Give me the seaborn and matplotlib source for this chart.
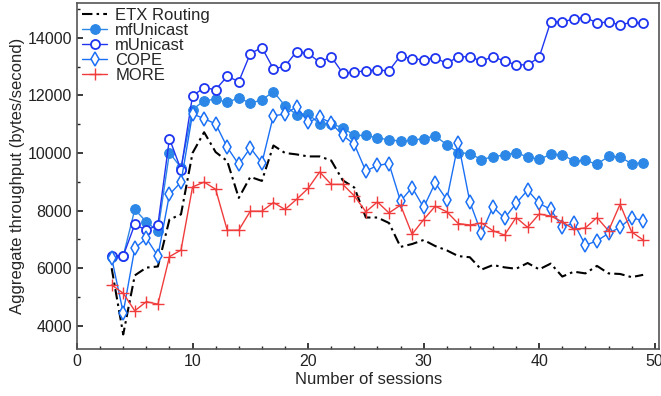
# Aggregate throughput vs number of sessions

import numpy as np
import pandas as pd
import matplotlib
matplotlib.use('Agg')
import matplotlib.pyplot as plt
import seaborn as sns
from matplotlib.ticker import MultipleLocator

############################
# DATA
############################
sessions = list(range(3, 50))

etx = [6000, 3700, 5750, 6020, 6060, 7690, 7870, 10000, 10720, 10030,
       9720, 8440, 9170, 9030, 10260, 10000, 9950, 9880, 9880, 9740,
       9050, 8800, 7760, 7760, 7570, 6740, 6840, 6980, 6770, 6620,
       6420, 6380, 5950, 6110, 6030, 5980, 6180, 5960, 6160, 5710,
       5880, 5820, 6080, 5820, 5800, 5690, 5770]

mf_unicast = [6400, 6420, 8040, 7610, 7290, 10010, 9490, 11500, 11820, 11860,
              11760, 11910, 11730, 11840, 12130, 11640, 11330, 11360, 11010, 11010,
              10880, 10610, 10610, 10520, 10460, 10410, 10440, 10500, 10590, 10290,
              10010, 9980, 9770, 9870, 9930, 10010, 9860, 9780, 9950, 9940,
              9720, 9740, 9610, 9880, 9860, 9630, 9660]

m_unicast = [6430, 6430, 7520, 7320, 7500, 10500, 9420, 11990, 12260, 12200,
             12660, 12480, 13450, 13660, 12920, 13010, 13520, 13460, 13150, 13340,
             12770, 12800, 12860, 12880, 12850, 13380, 13260, 13240, 13300, 13110,
             13340, 13340, 13190, 13340, 13190, 13060, 13060, 13320, 14560, 14540,
             14660, 14700, 14520, 14540, 14450, 14530, 14500]

cope = [6350, 4460, 6690, 7040, 6420, 8560, 8990, 11360, 11190, 11010,
        10200, 9600, 10180, 9650, 11300, 11340, 11610, 11070, 11240, 11040,
        10610, 10300, 9370, 9570, 9630, 8330, 8800, 8110, 8960, 8380,
        10340, 8300, 7210, 8130, 7730, 8250, 8710, 8250, 8040, 7420,
        7570, 6800, 6950, 7210, 7420, 7760, 7640]

more = [5420, 5130, 4520, 4840, 4750, 6400, 6630, 8820, 8990, 8740,
        7320, 7320, 7980, 7980, 8280, 8040, 8390, 8770, 9340, 8910,
        8910, 8510, 7960, 8300, 7920, 8190, 7180, 7690, 8150, 7960,
        7550, 7500, 7570, 7300, 7150, 7760, 7420, 7880, 7810, 7610,
        7350, 7400, 7760, 7300, 8220, 7260, 6980]

############################
# PLOT
############################
sns.set_theme(style='ticks')
plt.rcParams['font.family'] = ['Liberation Sans', 'DejaVu Sans']

fig = plt.figure(figsize=(6.61, 3.96), dpi=100)
ax = fig.add_axes([0.1165, 0.119, 0.881, 0.873])

sns.lineplot(x=sessions, y=etx, ax=ax, color='black', lw=1.5,
             linestyle=(0, (5, 2, 1.2, 2)), label='ETX Routing')
sns.lineplot(x=sessions, y=mf_unicast, ax=ax, color='#2c87e6', lw=1,
             marker='o', markersize=7, mfc='#2c87e6', mec='#2c87e6',
             label='mfUnicast')
sns.lineplot(x=sessions, y=m_unicast, ax=ax, color='#1f35f0', lw=1,
             marker='o', markersize=6.5, mfc='white', mec='#1f35f0', mew=1.3,
             label='mUnicast')
sns.lineplot(x=sessions, y=cope, ax=ax, color='#1a70f5', lw=1,
             marker='d', markersize=7, mfc='white', mec='#1a70f5', mew=1.1,
             label='COPE')
sns.lineplot(x=sessions, y=more, ax=ax, color='#f03c3c', lw=1,
             marker='+', markersize=8, mew=1, mec='#f03c3c',
             label='MORE')

ax.set_xlim(0, 50.4)
ax.set_ylim(3200, 15200)
ax.xaxis.set_major_locator(MultipleLocator(10))
ax.xaxis.set_minor_locator(MultipleLocator(2))
ax.yaxis.set_major_locator(MultipleLocator(2000))
ax.yaxis.set_minor_locator(MultipleLocator(1000))
ax.tick_params(which='both', direction='in', labelsize=11.5, colors='#222222')
ax.tick_params(which='major', length=4)
ax.tick_params(which='minor', length=2.5)
for s in ax.spines.values():
    s.set_color('#555555')
    s.set_linewidth(1.2)

ax.set_xlabel('Number of sessions', fontsize=12, labelpad=2)
ax.set_ylabel('Aggregate throughput (bytes/second)', fontsize=12, labelpad=2)

ax.legend(loc='upper left', frameon=False, fontsize=12, labelspacing=0.0,
          handlelength=1.5, handletextpad=0.5, borderaxespad=0.1,
          borderpad=0.2)

fig.savefig('out.png', dpi=100)
